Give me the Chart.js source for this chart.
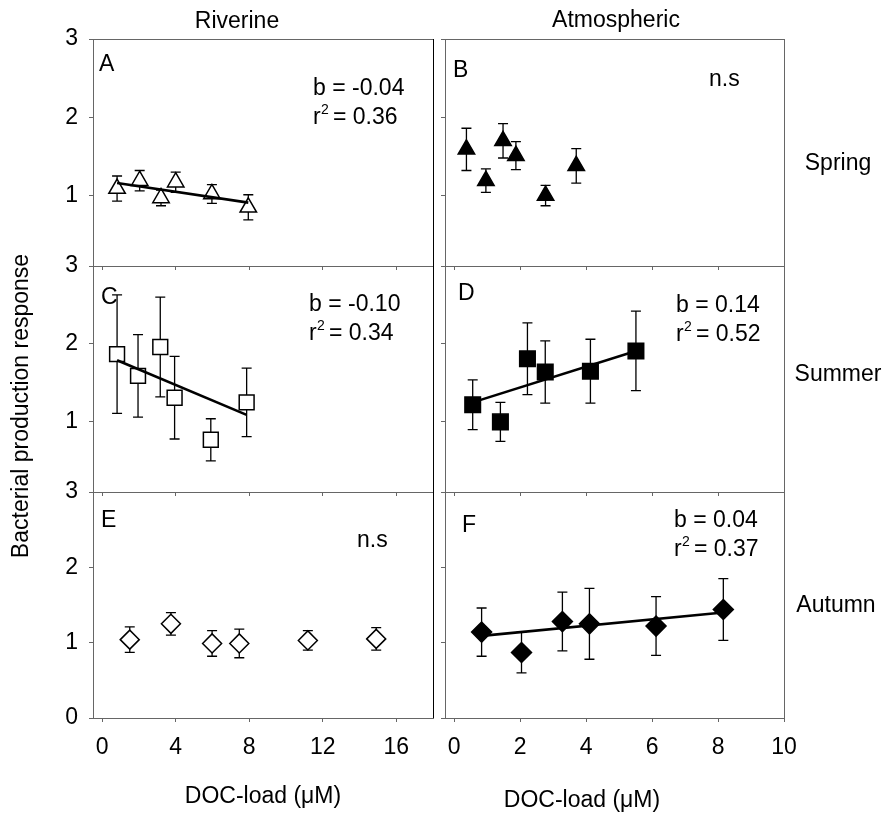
<!DOCTYPE html>
<html>
<head>
<meta charset="utf-8">
<script src="https://cdn.jsdelivr.net/npm/chart.js@4/dist/chart.umd.min.js"></script>
<style>
  body { margin: 0; background: #fff; }
  #wrap { position: relative; width: 892px; height: 818px; }
  #wrap canvas { position: absolute; left: 0; top: 0; }
</style>
</head>
<body>
<div id="wrap"></div>
<script>
// DOC-load (uM), mean response and error-bar half width, one set per panel
const springRivX = [0.81, 2.04, 3.2, 4.0, 5.97, 7.95];
const springRivY = [1.09, 1.19, 0.97, 1.17, 1.02, 0.85];
const springRivErr = [0.16, 0.13, 0.10, 0.13, 0.12, 0.16];
const springRivFitX = [0.81, 7.95];
const springRivFitY = [1.16, 0.91];

const springAtmX = [0.37, 0.96, 1.48, 1.87, 2.77, 3.7];
const springAtmY = [1.59, 1.19, 1.70, 1.51, 1.00, 1.38];
const springAtmErr = [0.27, 0.15, 0.22, 0.18, 0.13, 0.22];

const summerRivX = [0.81, 1.95, 3.16, 3.94, 5.91, 7.86];
const summerRivY = [1.87, 1.59, 1.96, 1.31, 0.77, 1.25];
const summerRivErr = [0.76, 0.53, 0.64, 0.53, 0.27, 0.44];
const summerRivFitX = [0.81, 7.86];
const summerRivFitY = [1.79, 1.09];

const summerAtmX = [0.56, 1.40, 2.22, 2.76, 4.13, 5.51];
const summerAtmY = [1.22, 1.00, 1.81, 1.64, 1.65, 1.91];
const summerAtmErr = [0.32, 0.25, 0.46, 0.40, 0.41, 0.51];
const summerAtmFitX = [0.56, 5.51];
const summerAtmFitY = [1.25, 1.91];

const autumnRivX = [1.5, 3.74, 5.98, 7.46, 11.19, 14.91];
const autumnRivY = [1.04, 1.25, 0.99, 0.99, 1.03, 1.05];
const autumnRivErr = [0.17, 0.15, 0.17, 0.19, 0.13, 0.15];

const autumnAtmX = [0.83, 2.04, 3.28, 4.1, 6.12, 8.16];
const autumnAtmY = [1.14, 0.87, 1.28, 1.25, 1.22, 1.44];
const autumnAtmErr = [0.32, 0.27, 0.39, 0.47, 0.39, 0.41];
const autumnAtmFitX = [0.83, 8.16];
const autumnAtmFitY = [1.09, 1.40];

const rivTicks = [0, 4, 8, 12, 16];
const atmTicks = [0, 2, 4, 6, 8, 10];
const yTicksUpper = [1, 2, 3];
const yTicksLower = [0, 1, 2, 3];

const colTitles = ['Riverine', 'Atmospheric'];
const seasons = ['Spring', 'Summer', 'Autumn'];
const yTitle = 'Bacterial production response';
const xTitle = 'DOC-load (\u03BCM)';

// page layout
const W = 892, H = 818;
const Y_W = 40, X_H = 50;
const FONT = "'Liberation Sans', Arial, sans-serif";
const FS = 23;
const COLS = [
  { left: 93, right: 433, min: -0.5, max: 18, ticks: rivTicks },
  { left: 445, right: 784, min: -0.28, max: 10, ticks: atmTicks }
];
const ROWS = [
  { top: 39, bottom: 266, min: 0.1, ticks: yTicksUpper },
  { top: 266, bottom: 492, min: 0.1, ticks: yTicksUpper },
  { top: 492, bottom: 718, min: 0, ticks: yTicksLower }
];

const panels = [
  { letter: 'A', col: 0, row: 0, x: springRivX, y: springRivY, err: springRivErr, fitX: springRivFitX, fitY: springRivFitY,
    marker: 'triangle', radius: 9.5, fill: '#fff', b: '-0.04', r2: '0.36',
    pos: { letter: [99, 71], stats: [313, 95] } },
  { letter: 'B', col: 1, row: 0, x: springAtmX, y: springAtmY, err: springAtmErr,
    marker: 'triangle', radius: 9.5, fill: '#000', ns: true,
    pos: { letter: [453, 77], stats: [709, 86] } },
  { letter: 'C', col: 0, row: 1, x: summerRivX, y: summerRivY, err: summerRivErr, fitX: summerRivFitX, fitY: summerRivFitY,
    marker: 'rect', radius: 10.5, fill: '#fff', b: '-0.10', r2: '0.34',
    pos: { letter: [101, 304], stats: [309, 311] } },
  { letter: 'D', col: 1, row: 1, x: summerAtmX, y: summerAtmY, err: summerAtmErr, fitX: summerAtmFitX, fitY: summerAtmFitY,
    marker: 'rect', radius: 11, fill: '#000', b: '0.14', r2: '0.52',
    pos: { letter: [458, 300], stats: [676, 312] } },
  { letter: 'E', col: 0, row: 2, x: autumnRivX, y: autumnRivY, err: autumnRivErr,
    marker: 'rectRot', radius: 9.5, fill: '#fff', ns: true,
    pos: { letter: [101, 527], stats: [357, 547] } },
  { letter: 'F', col: 1, row: 2, x: autumnAtmX, y: autumnAtmY, err: autumnAtmErr, fitX: autumnAtmFitX, fitY: autumnAtmFitY,
    marker: 'rectRot', radius: 10, fill: '#000', b: '0.04', r2: '0.37',
    pos: { letter: [462, 532], stats: [674, 527] } }
];

Chart.defaults.font.family = FONT;
Chart.defaults.font.size = FS;
Chart.defaults.color = '#000';

const wrap = document.getElementById('wrap');

function errorBars(p) {
  return {
    id: 'errorBars' + p.letter,
    beforeDatasetsDraw(chart) {
      const { ctx, scales: { x, y } } = chart;
      ctx.save();
      ctx.strokeStyle = '#000';
      ctx.lineWidth = 1.3;
      p.x.forEach((v, i) => {
        const px = x.getPixelForValue(v);
        const top = y.getPixelForValue(p.y[i] + p.err[i]);
        const bot = y.getPixelForValue(p.y[i] - p.err[i]);
        ctx.beginPath();
        ctx.moveTo(px, top); ctx.lineTo(px, bot);
        ctx.moveTo(px - 5, top); ctx.lineTo(px + 5, top);
        ctx.moveTo(px - 5, bot); ctx.lineTo(px + 5, bot);
        ctx.stroke();
      });
      ctx.restore();
    }
  };
}

function frameAndNotes(p) {
  return {
    id: 'frame' + p.letter,
    afterDraw(chart) {
      const { ctx, chartArea: a } = chart;
      ctx.save();
      ctx.lineWidth = 1;
      ctx.strokeStyle = '#666';
      ctx.beginPath();
      ctx.moveTo(a.left, Math.round(a.top) + 0.5);
      ctx.lineTo(a.right, Math.round(a.top) + 0.5);
      ctx.stroke();
      ctx.strokeStyle = p.col === 0 ? '#000' : '#666';
      ctx.beginPath();
      ctx.moveTo(Math.round(a.right) + 0.5, a.top);
      ctx.lineTo(Math.round(a.right) + 0.5, a.bottom);
      ctx.stroke();

      ctx.fillStyle = '#000';
      ctx.textBaseline = 'alphabetic';
      ctx.textAlign = 'left';
      ctx.font = FS + 'px ' + FONT;
      ctx.fillText(p.letter, p.pos.letter[0], p.pos.letter[1]);
      const [sx, sy] = p.pos.stats;
      if (p.ns) {
        ctx.fillText('n.s', sx, sy);
      } else {
        ctx.fillText('b = ' + p.b, sx, sy);
        ctx.fillText('r', sx, sy + 29);
        ctx.fillText('= ' + p.r2, sx + 20, sy + 29);
        ctx.font = '14px ' + FONT;
        ctx.fillText('2', sx + 8, sy + 19);
      }
      ctx.restore();
    }
  };
}

const pageText = {
  id: 'pageText',
  afterDraw(chart) {
    const ctx = chart.ctx;
    ctx.save();
    ctx.fillStyle = '#000';
    ctx.font = FS + 'px ' + FONT;
    ctx.textBaseline = 'alphabetic';
    ctx.textAlign = 'center';
    ctx.fillText(colTitles[0], 237, 28);
    ctx.fillText(colTitles[1], 616, 27);
    ctx.fillText(seasons[0], 838, 170);
    ctx.fillText(seasons[1], 838, 381);
    ctx.fillText(seasons[2], 836, 612);
    ctx.fillText(xTitle, 263, 803);
    ctx.fillText(xTitle, 582, 807);
    ctx.translate(28, 406);
    ctx.rotate(-Math.PI / 2);
    ctx.fillText(yTitle, 0, 0);
    ctx.restore();
  }
};

function makeChart(p, idx) {
  const col = COLS[p.col], row = ROWS[p.row];
  const canvas = document.createElement('canvas');
  canvas.width = W;
  canvas.height = H;
  wrap.appendChild(canvas);

  const datasets = [];
  if (p.fitX) {
    datasets.push({
      data: p.fitX.map((v, i) => ({ x: v, y: p.fitY[i] })),
      showLine: true, borderColor: '#000', borderWidth: 2.6,
      pointRadius: 0, order: 0
    });
  }
  datasets.push({
    data: p.x.map((v, i) => ({ x: v, y: p.y[i] })),
    pointStyle: p.marker, pointRadius: p.radius,
    backgroundColor: p.fill, borderColor: '#000', borderWidth: 1.5,
    order: 1
  });

  const axisGrid = { drawOnChartArea: false, drawTicks: true, tickLength: 4, color: '#666', lineWidth: 1 };
  const axisBorder = { display: true, color: '#666', width: 1 };

  const plugins = [errorBars(p), frameAndNotes(p)];
  if (idx === 0) plugins.push(pageText);

  new Chart(canvas, {
    type: 'scatter',
    data: { datasets },
    options: {
      responsive: false,
      animation: false,
      events: [],
      layout: {
        padding: { left: col.left - Y_W, top: row.top, right: W - col.right, bottom: H - row.bottom - X_H }
      },
      plugins: { legend: { display: false }, tooltip: { enabled: false } },
      scales: {
        x: {
          type: 'linear', min: col.min, max: col.max,
          afterBuildTicks: s => { s.ticks = col.ticks.map(v => ({ value: v })); },
          afterFit: s => { s.height = X_H; },
          grid: axisGrid, border: axisBorder,
          ticks: { display: p.row === 2, padding: 12, color: '#000', maxRotation: 0 }
        },
        y: {
          type: 'linear', min: row.min, max: 3,
          afterBuildTicks: s => { s.ticks = row.ticks.map(v => ({ value: v })); },
          afterFit: s => { s.width = Y_W; },
          grid: axisGrid, border: axisBorder,
          ticks: { display: p.col === 0, padding: 11, color: '#000' }
        }
      }
    },
    plugins
  });
}

panels.forEach(makeChart);
</script>
</body>
</html>
